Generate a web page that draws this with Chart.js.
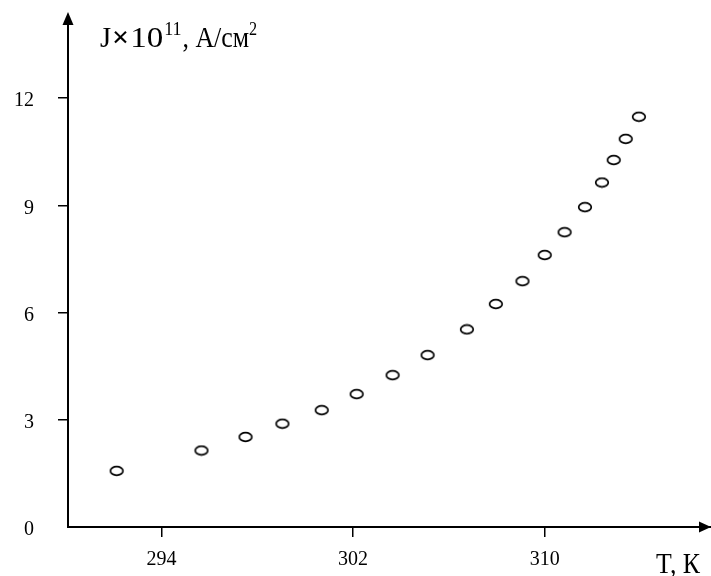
<!DOCTYPE html>
<html>
<head>
<meta charset="utf-8">
<script src="https://cdn.jsdelivr.net/npm/chart.js@4/dist/chart.umd.min.js"></script>
<style>
html,body{margin:0;padding:0;background:#fff;}
canvas{display:block;}
</style>
</head>
<body>
<canvas id="c" width="711" height="576"></canvas>
<script>
// Data
const temperatureK = [292.13, 295.67, 297.51, 299.05, 300.69, 302.15, 303.65, 305.11, 306.75, 307.96, 309.07, 310.0, 310.83, 311.68, 312.39, 312.88, 313.38, 313.93];
const currentJ = [1.57, 2.14, 2.52, 2.89, 3.27, 3.72, 4.25, 4.81, 5.53, 6.24, 6.88, 7.61, 8.25, 8.95, 9.64, 10.27, 10.86, 11.48];
const xTickValues = [294, 302, 310];
const yTickValues = [0, 3, 6, 9, 12];
const yTitleMain = ["J", "×", "10"];
const yTitleExp = "11";
const yTitleUnit = ", A/см";
const yTitleUnitExp = "2";
const xTitle = "T, К";

const SERIF = '"Liberation Serif", "Times New Roman", serif';

// ellipse marker
const marker = document.createElement('canvas');
marker.width = 16; marker.height = 12;
(function(){
  const m = marker.getContext('2d');
  m.beginPath();
  m.ellipse(8, 6, 6.3, 4.3, 0, 0, Math.PI*2);
  m.lineWidth = 1.7;
  m.strokeStyle = '#000';
  m.stroke();
})();

const points = temperatureK.map((t, i) => ({x: t, y: currentJ[i]}));

function squeezedText(ctx, txt, x, y, font, sx) {
  ctx.save();
  ctx.font = font;
  ctx.translate(x, y);
  ctx.scale(sx, 1);
  ctx.fillText(txt, 0, 0);
  const w = ctx.measureText(txt).width * sx;
  ctx.restore();
  return w;
}

const decor = {
  id: 'decor',
  afterDraw(chart) {
    const ctx = chart.ctx;
    const a = chart.chartArea;
    ctx.save();
    ctx.fillStyle = '#000';
    ctx.strokeStyle = '#000';
    // y axis arrow
    ctx.beginPath();
    ctx.moveTo(a.left, 12);
    ctx.lineTo(a.left - 5.5, 25);
    ctx.lineTo(a.left + 5.5, 25);
    ctx.closePath();
    ctx.fill();
    // x axis arrow
    ctx.beginPath();
    ctx.moveTo(711, a.bottom);
    ctx.lineTo(699, a.bottom - 5.5);
    ctx.lineTo(699, a.bottom + 5.5);
    ctx.closePath();
    ctx.fill();
    // y title
    ctx.textBaseline = 'alphabetic';
    ctx.textAlign = 'left';
    const base = 47;
    const big = '30px ' + SERIF;
    const small = '18px ' + SERIF;
    let x = 100;
    x += squeezedText(ctx, yTitleMain[0], x, base, big, 0.95) + 1;
    x += squeezedText(ctx, yTitleMain[1], x, base, 'bold 30px ' + SERIF, 1.0) + 1;
    x += squeezedText(ctx, yTitleMain[2], x, base, big, 1.1) + 1;
    x += squeezedText(ctx, yTitleExp, x, base - 12, small, 1.0) + 1;
    x += squeezedText(ctx, yTitleUnit, x, base, big, 0.86);
    squeezedText(ctx, yTitleUnitExp, x, base - 12, small, 0.9);
    // x title
    ctx.font = '30px ' + SERIF;
    const w = ctx.measureText(xTitle).width * 0.86;
    squeezedText(ctx, xTitle, 700 - w, 573, '30px ' + SERIF, 0.86);
    ctx.restore();
  }
};

function zeroPad(s) { s.paddingTop = 0; s.paddingBottom = 0; s.paddingLeft = 0; s.paddingRight = 0; }

new Chart(document.getElementById('c'), {
  type: 'scatter',
  data: {
    datasets: [{
      data: points,
      pointStyle: marker,
      pointRadius: 6,
      showLine: false
    }]
  },
  options: {
    responsive: false,
    animation: false,
    events: [],
    layout: {autoPadding: false, padding: {top: 16, right: 0, bottom: 0, left: 0}},
    plugins: {legend: {display: false}, tooltip: {enabled: false}},
    scales: {
      x: {
        type: 'linear',
        min: 290.1,
        max: 316.94,
        afterFit(s) { s.height = 49; zeroPad(s); },
        afterBuildTicks(s) { s.ticks = xTickValues.map(v => ({value: v})); },
        border: {display: true, color: '#000', width: 2},
        grid: {display: true, drawOnChartArea: false, drawTicks: true, tickLength: 10, color: '#000', lineWidth: 1.5},
        ticks: {color: '#000', padding: 11, font: {family: SERIF, size: 20}, maxRotation: 0}
      },
      y: {
        type: 'linear',
        min: 0,
        max: 14.3,
        afterFit(s) { s.width = 68; zeroPad(s); },
        afterBuildTicks(s) { s.ticks = yTickValues.map(v => ({value: v})); },
        border: {display: true, color: '#000', width: 2},
        grid: {display: true, drawOnChartArea: false, drawTicks: true, tickLength: 10,
               color: c => (c.tick && c.tick.value === 0) ? 'rgba(0,0,0,0)' : '#000', lineWidth: 1.5},
        ticks: {color: '#000', padding: 24, labelOffset: 3, font: {family: SERIF, size: 20}}
      }
    }
  },
  plugins: [decor]
});
</script>
</body>
</html>
